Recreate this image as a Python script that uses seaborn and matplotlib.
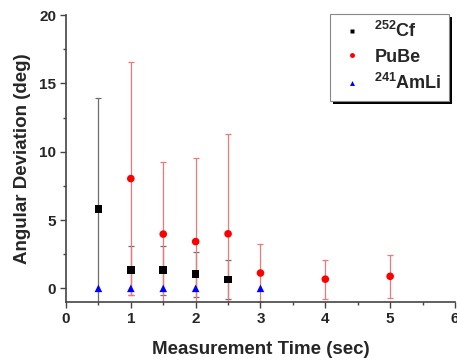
import matplotlib
matplotlib.use("Agg")
import matplotlib.pyplot as plt
import seaborn as sns
import pandas as pd
from matplotlib.ticker import MultipleLocator

# Data
cf_time = [0.5, 1.0, 1.5, 2.0, 2.5]
cf_dev = [5.8, 1.32, 1.32, 1.03, 0.65]
cf_err = [8.15, 1.8, 1.8, 1.65, 1.45]

pube_time = [1.0, 1.5, 2.0, 2.5, 3.0, 4.0, 5.0]
pube_dev = [8.03, 3.97, 3.42, 3.99, 1.12, 0.67, 0.88]
pube_err = [8.5, 5.3, 6.15, 7.3, 2.1, 1.43, 1.58]

amli_time = [0.5, 1.0, 1.5, 2.0, 3.0]
amli_dev = [0.0, 0.0, 0.0, 0.0, 0.0]

labels = ["$\\mathbf{^{252}Cf}$", "PuBe", "$\\mathbf{^{241}AmLi}$"]

sns.set_style("white")
plt.rcParams["font.family"] = ["Liberation Sans", "DejaVu Sans"]
plt.rcParams["mathtext.fontset"] = "custom"
plt.rcParams["mathtext.rm"] = "Liberation Sans:bold"
plt.rcParams["mathtext.bf"] = "Liberation Sans:bold"
plt.rcParams["mathtext.it"] = "Liberation Sans:bold"

df = pd.concat([
    pd.DataFrame({"time": cf_time, "dev": cf_dev, "source": labels[0]}),
    pd.DataFrame({"time": pube_time, "dev": pube_dev, "source": labels[1]}),
    pd.DataFrame({"time": amli_time, "dev": amli_dev, "source": labels[2]}),
], ignore_index=True)

fig = plt.figure(figsize=(4.57, 3.6), dpi=100, facecolor="white")
ax = fig.add_axes([0.1444, 0.1611, 0.8512, 0.7972])
ax.set_zorder(2)
ax.patch.set_visible(False)

ax.errorbar(cf_time, cf_dev, yerr=cf_err, fmt="none", ecolor="#6e6e6e",
            elinewidth=0.9, capsize=2.5, capthick=0.9, zorder=1)
ax.errorbar(pube_time, pube_dev, yerr=pube_err, fmt="none", ecolor="#f07878",
            elinewidth=0.9, capsize=2.5, capthick=0.9, zorder=1)

palette = {labels[0]: "black", labels[1]: "#ff0000", labels[2]: "#0000ff"}
markers = {labels[0]: "s", labels[1]: "o", labels[2]: "^"}
sns.scatterplot(data=df, x="time", y="dev", hue="source", style="source",
                palette=palette, markers=markers, s=30, edgecolor="none",
                ax=ax, zorder=3, legend=True)

ax.set_xlim(0, 6)
ax.set_ylim(-1, 20)
ax.xaxis.set_major_locator(MultipleLocator(1))
ax.xaxis.set_minor_locator(MultipleLocator(0.5))
ax.yaxis.set_major_locator(MultipleLocator(5))
ax.yaxis.set_minor_locator(MultipleLocator(2.5))
ax.tick_params(which="major", direction="out", length=4, width=1,
               color="#444444", labelsize=11, pad=3,
               bottom=True, left=True)
ax.tick_params(which="minor", direction="out", length=2.5, width=1,
               color="#444444", bottom=True, left=True)
for lab in ax.get_xticklabels() + ax.get_yticklabels():
    lab.set_fontweight("bold")

for side in ["top", "right"]:
    ax.spines[side].set_visible(False)
for side in ["left", "bottom"]:
    ax.spines[side].set_color("#444444")
    ax.spines[side].set_linewidth(1.2)
ax.spines["bottom"].set_zorder(5)

ax.set_xlabel("Measurement Time (sec)", fontsize=13.5, fontweight="bold", labelpad=11)
ax.set_ylabel("Angular Deviation (deg)", fontsize=13.5, fontweight="bold", labelpad=6)

handles, lbls = ax.get_legend_handles_labels()
leg = ax.legend(handles, lbls, loc="upper right", bbox_to_anchor=(0.985, 1.004),
                frameon=True, fancybox=False, framealpha=1, shadow=False,
                prop={"weight": "bold", "size": 13}, markerscale=0.65,
                handletextpad=0.45, labelspacing=0.42, borderpad=0.4,
                handlelength=1.6, borderaxespad=0)
frame = leg.get_frame()
frame.set_edgecolor("#888888")
frame.set_linewidth(0.8)
frame.set_facecolor("white")

# solid black drop shadow: a black panel behind the (transparent) main axes
fig.canvas.draw()
bb = leg.get_window_extent()
W, H = fig.bbox.width, fig.bbox.height
sh = fig.add_axes([(bb.x0 + 3) / W, (bb.y0 - 3) / H, bb.width / W, bb.height / H])
sh.set_zorder(1)
sh.set_facecolor("black")
sh.set_xticks([])
sh.set_yticks([])
for s in sh.spines.values():
    s.set_visible(False)

fig.savefig("out.png", dpi=100, facecolor="white")
